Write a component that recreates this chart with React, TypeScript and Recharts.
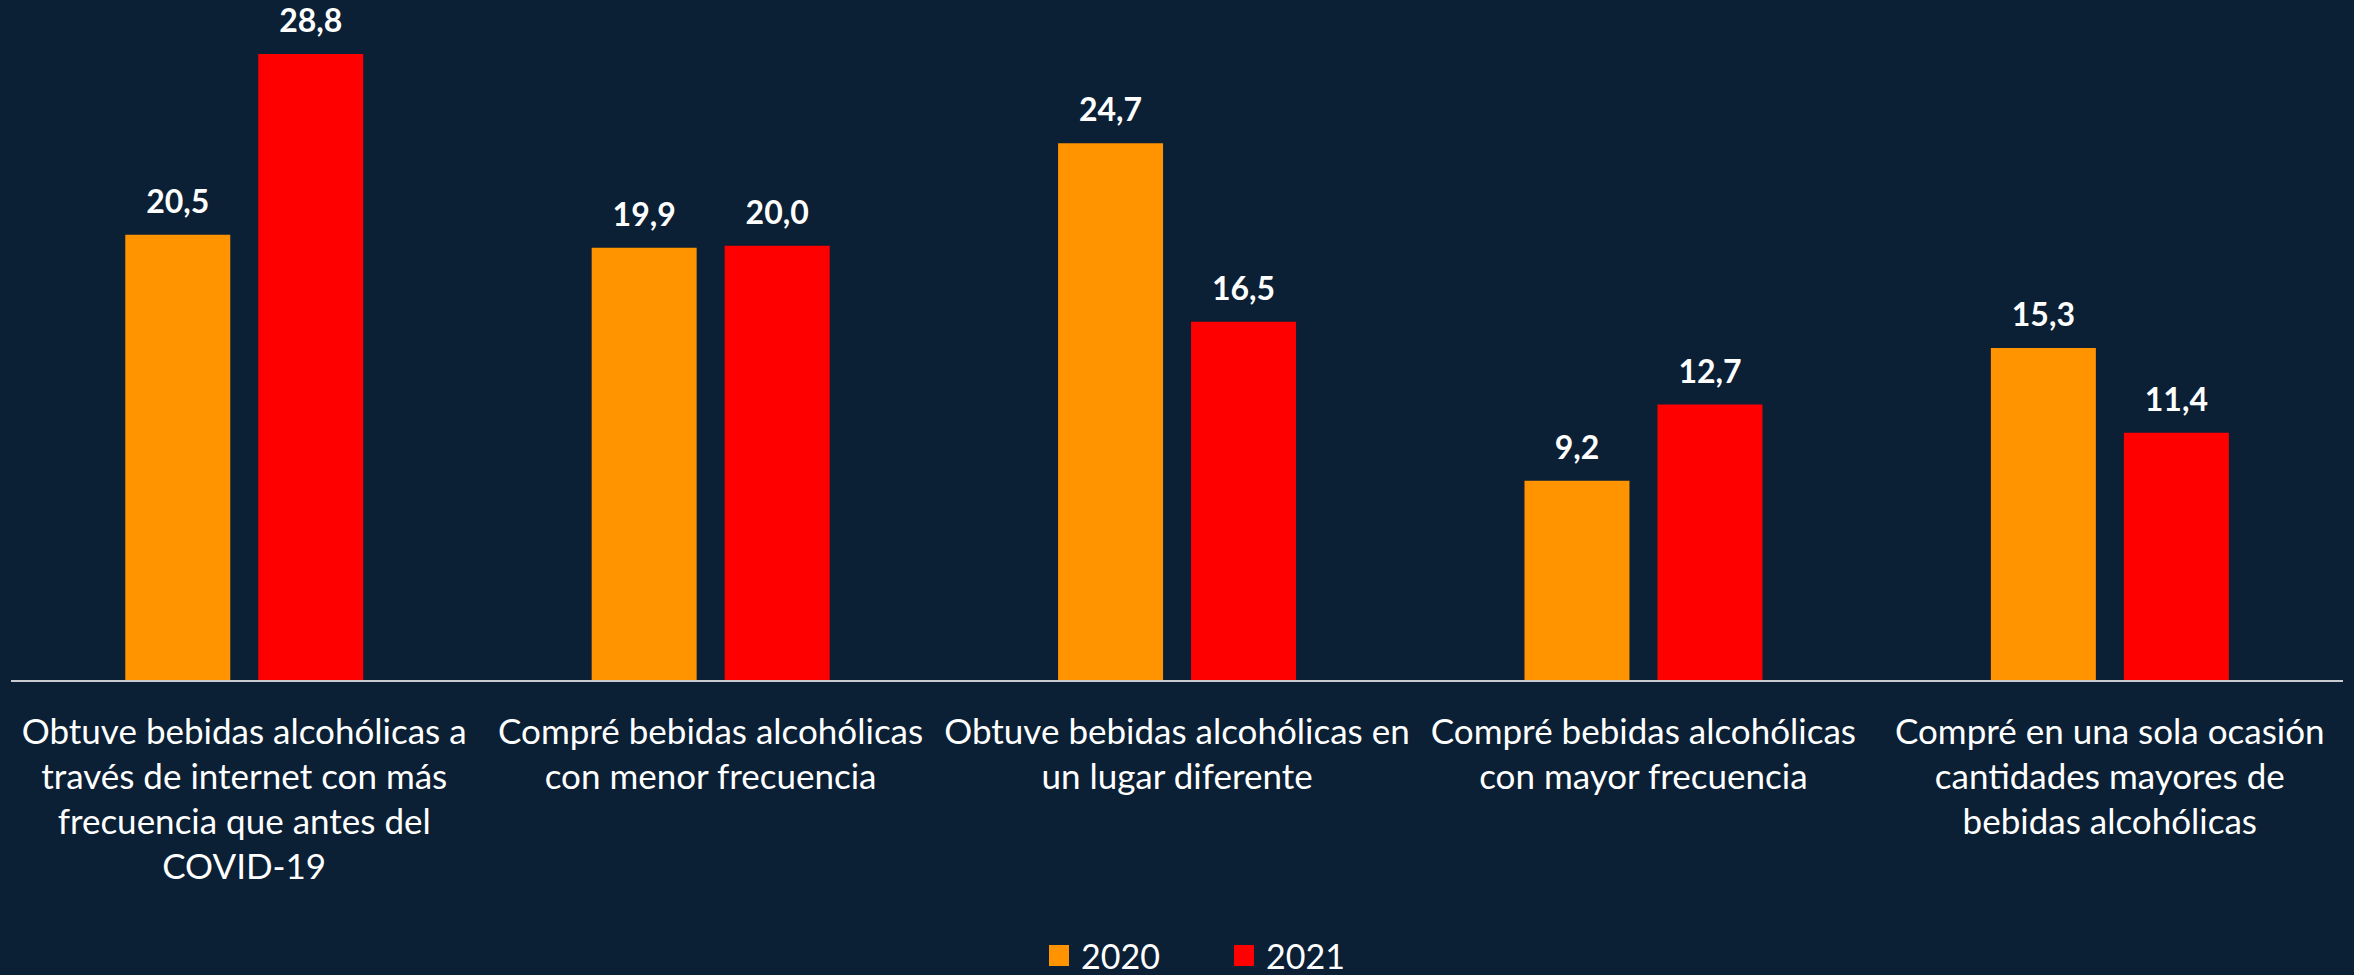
import { BarChart, Bar, XAxis, YAxis, Legend, LabelList } from 'recharts'

const categories = [
  'Obtuve bebidas alcohólicas a\ntravés de internet con más\nfrecuencia que antes del\nCOVID-19',
  'Compré bebidas alcohólicas\ncon menor frecuencia',
  'Obtuve bebidas alcohólicas en\nun lugar diferente',
  'Compré bebidas alcohólicas\ncon mayor frecuencia',
  'Compré en una sola ocasión\ncantidades mayores de\nbebidas alcohólicas',
]
const values2020 = [20.5, 19.9, 24.7, 9.2, 15.3]
const values2021 = [28.8, 20.0, 16.5, 12.7, 11.4]
const seriesNames = ['2020', '2021']

const BG = '#0b1f35'
const ORANGE = '#ff9300'
const RED = '#ff0000'
const FONT = 'Lato, "Noto Sans", sans-serif'

const data = categories.map((c, i) => ({ cat: c, y2020: values2020[i], y2021: values2021[i] }))

const fmt = (v: any) => Number(v).toFixed(1).replace('.', ',')

function Tick({ x, y, payload }: any) {
  const lines = String(payload.value).split('\n')
  return (
    <text x={x} y={y} textAnchor="middle" fill="#ffffff" fontFamily={FONT} fontSize={35}>
      {lines.map((l, i) => (
        <tspan key={i} x={x} dy={i === 0 ? 55 : 45}>{l}</tspan>
      ))}
    </text>
  )
}

function LegendBox() {
  const items = [
    { name: seriesNames[0], color: ORANGE },
    { name: seriesNames[1], color: RED },
  ]
  return (
    <div style={{ display: 'flex', justifyContent: 'center', paddingLeft: 40, fontFamily: FONT, fontSize: 34, color: '#fff' }}>
      {items.map((it) => (
        <div key={it.name} style={{ display: 'flex', alignItems: 'center', margin: '0 37px' }}>
          <div style={{ width: 20, height: 21, background: it.color, marginRight: 12 }} />
          <span>{it.name}</span>
        </div>
      ))}
    </div>
  )
}

export default function App() {
  return (
    <div style={{ position: 'absolute', left: 0, top: 0, width: 2354, height: 975, background: BG }}>
      <BarChart
        width={2354}
        height={975}
        data={data}
        margin={{ top: 28, right: 11, bottom: 0, left: 11 }}
        barCategoryGap="24.5%"
        barGap={28}
      >
        <XAxis
          dataKey="cat"
          tick={<Tick />}
          tickLine={false}
          axisLine={{ stroke: '#c8cbcf', strokeWidth: 2 }}
          height={254}
          interval={0}
        />
        <YAxis hide domain={[0, 30]} />
        <Legend verticalAlign="bottom" height={40} content={<LegendBox />} />
        <Bar dataKey="y2020" name={seriesNames[0]} fill={ORANGE} isAnimationActive={false}>
          <LabelList dataKey="y2020" position="top" offset={22} formatter={fmt} fill="#ffffff" fontFamily={FONT} fontWeight={700} fontSize={32} />
        </Bar>
        <Bar dataKey="y2021" name={seriesNames[1]} fill={RED} isAnimationActive={false}>
          <LabelList dataKey="y2021" position="top" offset={22} formatter={fmt} fill="#ffffff" fontFamily={FONT} fontWeight={700} fontSize={32} />
        </Bar>
      </BarChart>
    </div>
  )
}
